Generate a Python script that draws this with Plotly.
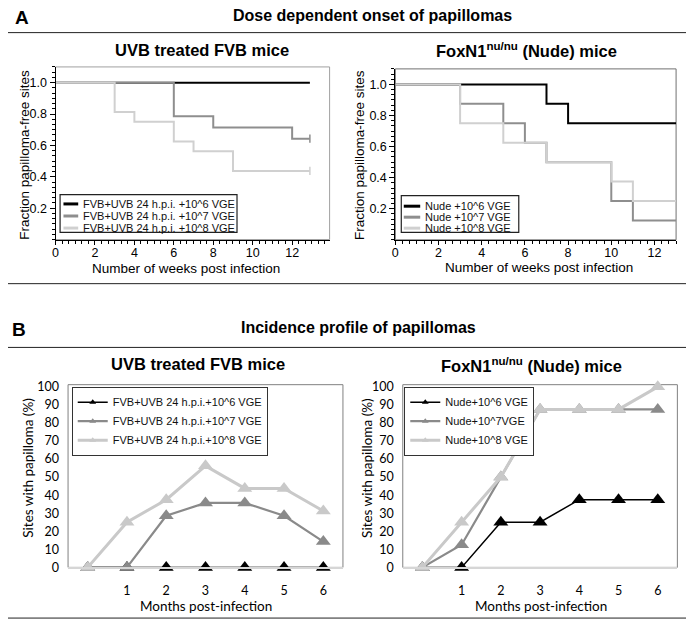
import plotly.graph_objects as go

# reference canvas size; the page body adds an 8px margin, so the figure is drawn 8px smaller
W, H = 694, 629
OFF = 8
FW, FH = W - OFF, H - OFF

# ---- panel A: fraction of papilloma-free sites (step curves) ----
fvb_names = ['FVB+UVB 24 h.p.i. +10^6 VGE', 'FVB+UVB 24 h.p.i. +10^7 VGE', 'FVB+UVB 24 h.p.i. +10^8 VGE']
fvb6_weeks = [0, 12.9]
fvb6_frac = [1.0, 1.0]
fvb7_weeks = [0, 6, 8, 12, 12.9]
fvb7_frac = [1.0, 0.786, 0.714, 0.643, 0.643]
fvb8_weeks = [0, 3, 4, 6, 7, 9, 12.9]
fvb8_frac = [1.0, 0.8125, 0.75, 0.625, 0.5625, 0.4375, 0.4375]

nude_names = ['Nude +10^6 VGE', 'Nude +10^7 VGE', 'Nude +10^8 VGE']
nude6_weeks = [0, 7, 8, 13]
nude6_frac = [1.0, 0.875, 0.75, 0.75]
nude7_weeks = [0, 3, 5, 6, 7, 10, 11, 13]
nude7_frac = [1.0, 0.875, 0.75, 0.625, 0.5, 0.25, 0.125, 0.125]
nude8_weeks = [0, 3, 5, 7, 10, 11, 13]
nude8_frac = [1.0, 0.75, 0.625, 0.5, 0.375, 0.25, 0.25]

frac_ticks = [0.2, 0.4, 0.6, 0.8, 1.0]

# ---- panel B: incidence (% sites with papilloma) per month ----
months = [0, 1, 2, 3, 4, 5, 6]
month_ticks = [1, 2, 3, 4, 5, 6]
fvb_inc_names = ['FVB+UVB 24 h.p.i.+10^6 VGE', 'FVB+UVB 24 h.p.i.+10^7 VGE', 'FVB+UVB 24 h.p.i.+10^8 VGE']
fvb6_inc = [0, 0, 0, 0, 0, 0, 0]
fvb7_inc = [0, 0, 28.6, 35.7, 35.7, 28.6, 14.3]
fvb8_inc = [0, 25, 37.5, 56.25, 43.75, 43.75, 31.25]
nude_inc_names = ['Nude+10^6 VGE', 'Nude+10^7VGE', 'Nude+10^8 VGE']
nude6_inc = [0, 0, 25, 25, 37.5, 37.5, 37.5]
nude7_inc = [0, 12.5, 50, 87.5, 87.5, 87.5, 87.5]
nude8_inc = [0, 25, 50, 87.5, 87.5, 87.5, 100]

KM_COLORS = ['#000000', '#8e8e8e', '#d0d0d0']
INC_COLORS = ['#000000', '#8a8a8a', '#c9c9c9']
INC_WIDTHS = [1.5, 2.2, 3]

ARIAL = 'Liberation Sans'
CALIBRI = 'Lato'


def fx(px):
    return (px - OFF) / FW


def fy(py):
    return 1 - (py - OFF) / FH


fig = go.Figure()

# step curves, panel A
km_sets = [
    ('x', 'y', fvb_names, [(fvb6_weeks, fvb6_frac), (fvb7_weeks, fvb7_frac), (fvb8_weeks, fvb8_frac)], True),
    ('x2', 'y2', nude_names, [(nude6_weeks, nude6_frac), (nude7_weeks, nude7_frac), (nude8_weeks, nude8_frac)], False),
]
for xa, ya, names, series, censor in km_sets:
    for i, (wk, fr) in enumerate(series):
        fig.add_trace(go.Scatter(x=wk, y=fr, name=names[i], mode='lines', xaxis=xa, yaxis=ya,
                                 line=dict(shape='hv', color=KM_COLORS[i], width=2),
                                 showlegend=False, cliponaxis=False))
        if censor and i > 0:
            # small censor tick at the end of follow-up
            fig.add_trace(go.Scatter(x=[wk[-1]], y=[fr[-1]], mode='markers', xaxis=xa, yaxis=ya,
                                     marker=dict(symbol='line-ns', size=6,
                                                 line=dict(color=KM_COLORS[i], width=1.5)),
                                     showlegend=False, cliponaxis=False))

# incidence curves, panel B
inc_sets = [
    ('x3', 'y3', 'legend', fvb_inc_names, [fvb6_inc, fvb7_inc, fvb8_inc]),
    ('x4', 'y4', 'legend2', nude_inc_names, [nude6_inc, nude7_inc, nude8_inc]),
]
for xa, ya, leg, names, series in inc_sets:
    for i, vals in enumerate(series):
        fig.add_trace(go.Scatter(x=months, y=vals, name=names[i], mode='lines+markers', xaxis=xa, yaxis=ya,
                                 line=dict(color=INC_COLORS[i], width=INC_WIDTHS[i]),
                                 marker=dict(symbol='triangle-up', size=13, color=INC_COLORS[i]),
                                 showlegend=False, cliponaxis=False))
        # legend entry with a small marker, like the Excel legend
        fig.add_trace(go.Scatter(x=[None], y=[None], name=names[i], mode='lines+markers', xaxis=xa, yaxis=ya,
                                 line=dict(color=INC_COLORS[i], width=INC_WIDTHS[i]),
                                 marker=dict(symbol='triangle-up', size=6, color=INC_COLORS[i]),
                                 legend=leg, showlegend=True))

shapes = []
annotations = []

# panel boxes
for y0, y1 in [(28, 284), (349, 625)]:
    shapes.append(dict(type='rect', xref='paper', yref='paper', x0=fx(3), x1=fx(691), y0=fy(y1), y1=fy(y0),
                       line=dict(color='#222222', width=1)))

# plot frames
for xa, col in [('x', '#a0a0a0'), ('x2', '#707070'), ('x3', '#808080'), ('x4', '#808080')]:
    ya = xa.replace('x', 'y')
    shapes.append(dict(type='rect', xref=xa + ' domain', yref=ya + ' domain', x0=0, x1=1, y0=0, y1=1,
                       line=dict(color=col, width=1), layer='below'))

# hand-drawn legends for panel A (JMP style, tight rows)
km_legends = [
    (fvb_names, (57.3, 193.3, 235, 231.7), 202.7, 12.3, (60.7, 75.5), 78.5),
    (nude_names, (400, 194.3, 518, 231.7), 205.0, 11.2, (402.5, 419), 422.3),
]
for names, box, row0, step, (s0, s1), tx in km_legends:
    shapes.append(dict(type='rect', xref='paper', yref='paper', x0=fx(box[0]), x1=fx(box[2]),
                       y0=fy(box[3]), y1=fy(box[1]), line=dict(color='#222222', width=1.2),
                       fillcolor='white', layer='above'))
    for i, nm in enumerate(names):
        ry = row0 + i * step
        shapes.append(dict(type='line', xref='paper', yref='paper', x0=fx(s0), x1=fx(s1), y0=fy(ry), y1=fy(ry),
                           line=dict(color=KM_COLORS[i], width=3)))
        annotations.append(dict(text=nm, xref='paper', yref='paper', x=fx(tx), y=fy(ry), xanchor='left',
                                yanchor='middle', showarrow=False, font=dict(family=ARIAL, size=11, color='#111')))


def label(text, x, y, size, family=ARIAL, bold=False, angle=0):
    if bold:
        text = '<b>' + text + '</b>'
    annotations.append(dict(text=text, xref='paper', yref='paper', x=fx(x), y=fy(y), xanchor='center',
                            yanchor='middle', showarrow=False, textangle=angle,
                            font=dict(family=family, size=size, color='black')))


label('A', 19.5, 12.5, 19, bold=True)
label('B', 16.5, 331, 19, bold=True)
label('Dose dependent onset of papillomas', 371.5, 10.5, 16, bold=True)
label('Incidence profile of papillomas', 357.5, 328.5, 16, bold=True)
label('UVB treated FVB mice', 200, 46, 16.5, bold=True)
label('FoxN1<sup>nu/nu</sup> (Nude) mice', 526, 46, 16.5, bold=True)
label('UVB treated FVB mice', 195.5, 366, 16.5, bold=True)
label('FoxN1<sup>nu/nu</sup> (Nude) mice', 531, 367, 16.5, bold=True)
label('Fraction papilloma-free sites', 21.7, 153, 13.5, angle=-90)
label('Number of weeks post infection', 184, 269, 13.5)
label('Fraction papilloma-free sites', 357.3, 153, 13.5, angle=-90)
label('Number of weeks post infection', 538.7, 268, 13.5)
label('Sites with papilloma (%)', 25, 471.7, 13.5, family=CALIBRI, angle=-90)
label('Months post-infection', 204, 613, 13.5, family=CALIBRI)
label('Sites with papilloma (%)', 365.7, 471.7, 13.5, family=CALIBRI, angle=-90)
label('Months post-infection', 540, 613, 13.5, family=CALIBRI)

km_x = dict(dtick=2, tick0=0, showline=True, linecolor='black', linewidth=1, ticks='outside', ticklen=4,
            tickcolor='black', showgrid=False, zeroline=False, ticklabelstandoff=-3,
            minor=dict(ticks='outside', ticklen=3, dtick=1 / 3, tick0=0, tickcolor='black'),
            tickfont=dict(family=ARIAL, size=12.5, color='black'))
km_y = dict(range=[0, 1.1], tickvals=frac_ticks, tickformat='.1f', showline=True, linecolor='black', linewidth=1,
            ticks='outside', ticklen=5, tickcolor='black', showgrid=False, zeroline=False,
            minor=dict(ticks='outside', ticklen=3, dtick=1 / 30, tick0=0, tickcolor='black'),
            tickfont=dict(family=ARIAL, size=12.5, color='black'))
inc_x = dict(range=[-0.5, 6.5], tickvals=month_ticks, showline=True, linecolor='#d6d6d6',
             linewidth=2, ticks='', showgrid=False, zeroline=False, ticklabelstandoff=11,
             tickfont=dict(family=CALIBRI, size=12.5, color='black'))
inc_y = dict(range=[0, 101.2], dtick=10, tick0=0, showline=False, ticks='', showgrid=False, zeroline=False,
             ticklabelstandoff=8, tickfont=dict(family=CALIBRI, size=12.5, color='black'))

fig.update_layout(
    width=FW, height=FH,
    margin=dict(l=0, r=0, t=0, b=0),
    paper_bgcolor='white', plot_bgcolor='white',
    showlegend=True,
    xaxis=dict(km_x, domain=[fx(52.7), fx(328)], range=[0, 13.9], anchor='y'),
    yaxis=dict(km_y, domain=[fy(239), fy(63)], anchor='x'),
    xaxis2=dict(km_x, domain=[fx(394), fx(676)], range=[0, 13], anchor='y2'),
    yaxis2=dict(km_y, domain=[fy(239.3), fy(65)], anchor='x2'),
    xaxis3=dict(inc_x, domain=[fx(65.3), fx(341.4)], anchor='y3'),
    yaxis3=dict(inc_y, domain=[fy(573.3), fy(387)], anchor='x3'),
    xaxis4=dict(inc_x, domain=[fx(401.5), fx(677.3)], anchor='y4'),
    yaxis4=dict(inc_y, domain=[fy(573.3), fy(387)], anchor='x4'),
    legend=dict(x=fx(69), y=fy(389), xanchor='left', yanchor='top', bgcolor='white', bordercolor='#333',
                borderwidth=1, tracegroupgap=0, font=dict(family=ARIAL, size=11, color='#111')),
    legend2=dict(x=fx(403), y=fy(389), xanchor='left', yanchor='top', bgcolor='white', bordercolor='#333',
                 borderwidth=1, tracegroupgap=0, font=dict(family=ARIAL, size=11, color='#111')),
    shapes=shapes,
    annotations=annotations,
)

fig.write_html("out.html")
